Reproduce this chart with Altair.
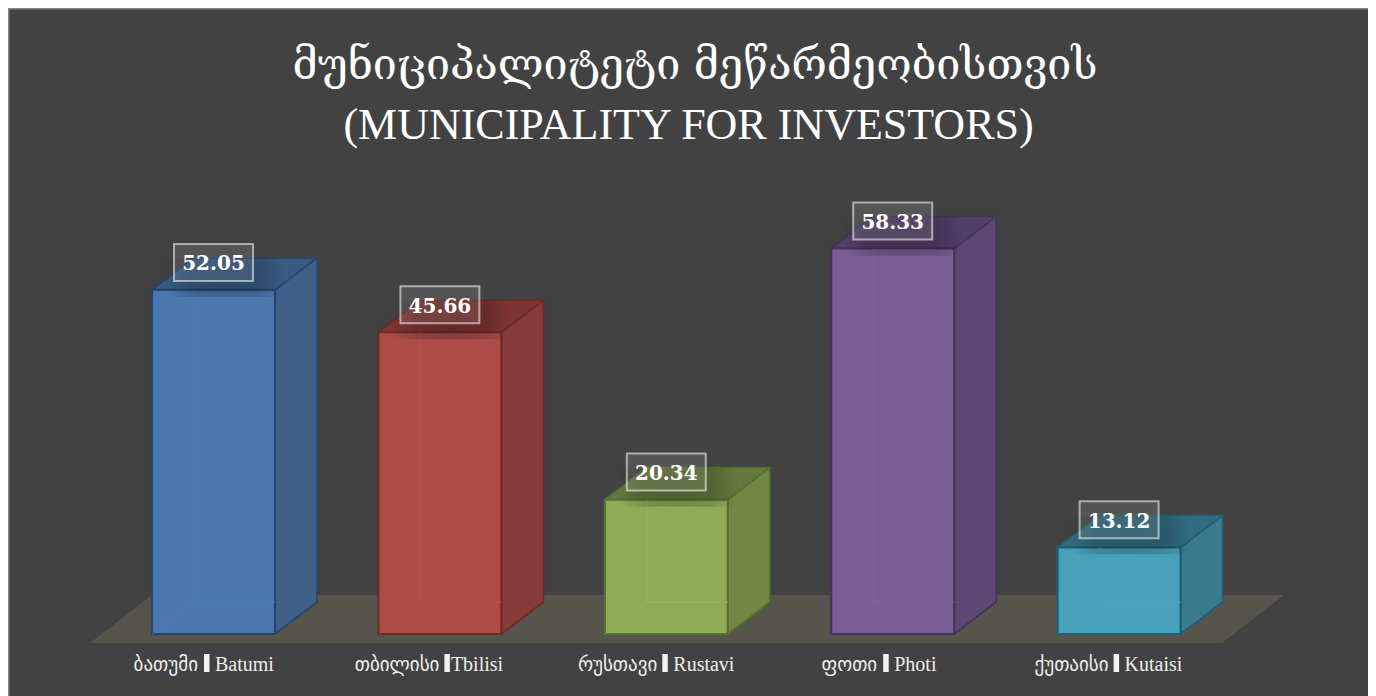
import altair as alt
import pandas as pd

# chart content
georgian = ["ბათუმი", "თბილისი", "რუსთავი", "ფოთი", "ქუთაისი"]
latin = ["Batumi", "Tbilisi", "Rustavi", "Photi", "Kutaisi"]
values = [52.05, 45.66, 20.34, 58.33, 13.12]
value_labels = ["52.05", "45.66", "20.34", "58.33", "13.12"]
title_georgian = "მუნიციპალიტეტი მეწარმეობისთვის"
title_latin = "(MUNICIPALITY FOR INVESTORS)"

# colours: front, side, top, edge, inner edge
front = ["#4b79af", "#ad4c47", "#8fab57", "#7a5e96", "#48a0ba"]
side = ["#3f6189", "#873b39", "#728744", "#5c4872", "#3a7a8e"]
top = ["#395a83", "#7d3533", "#65773d", "#523f68", "#326c80"]
edge = ["#264670", "#6e2a28", "#56702f", "#46325c", "#1f5f74"]
inner = ["#4f80ba", "#b8524c", "#96b85a", "#8266a0", "#4ea8c4"]

# label layout: horizontal shift of the separator from the bar centre (px)
label_shift = [-9.5, 4.5, -4, -9.5, -5.5]
sep_gap_left = [6, 5, 5, 6, 5]

# scale geometry
PX_PER_CAT = 226.4
PX_PER_VAL = 6.61
W, H = 1360, 688
X_DOMAIN = [(8 - 213.5) / PX_PER_CAT, (8 + W - 213.5) / PX_PER_CAT]
Y_DOMAIN = [-(696 - 634) / PX_PER_VAL, (634 - 8) / PX_PER_VAL]
half = 61.5 / PX_PER_CAT
dx = 42 / PX_PER_CAT
dy = 32 / PX_PER_VAL
box_w = 39.5 / PX_PER_CAT
box_h = 18.5 / PX_PER_VAL
box_up = 27.5 / PX_PER_VAL
px = lambda p: p / PX_PER_CAT
py = lambda p: p / PX_PER_VAL

xs = alt.Scale(domain=X_DOMAIN, nice=False, zero=False)
ys = alt.Scale(domain=Y_DOMAIN, nice=False, zero=False)
X = lambda f: alt.X(f, type="quantitative", scale=xs, axis=None)
Y = lambda f: alt.Y(f, type="quantitative", scale=ys, axis=None)

bars = pd.DataFrame({
    "i": range(5), "v": values, "txt": value_labels,
    "front": front, "side": side, "top": top, "edge": edge, "inner": inner,
    "ge": georgian, "la": latin, "shift": label_shift, "gap": sep_gap_left,
})
bars["xl"] = bars.i - half
bars["xr"] = bars.i + half
bars["zero"] = 0.0
bars["bl"] = bars.i - box_w
bars["br"] = bars.i + box_w
bars["bc"] = bars.v + box_up
bars["bb"] = bars.bc - box_h
bars["bt"] = bars.bc + box_h
bars["ly"] = py(-31)
bars["s1"] = bars.i + px(bars["shift"])
bars["s2"] = bars.s1 + px(5.5)
bars["gx"] = bars.s1 - px(bars["gap"])
bars["lx"] = bars.s2 + px(5.5)
bars.loc[1, "lx"] = bars.loc[1, "s2"] + px(1)
bars["sy1"] = py(-38)
bars["sy2"] = py(-20)
bars["shl"] = bars.i - px(50)
bars["shr"] = bars.i + px(72)
bars["sht"] = bars.v + dy
bars["shb"] = bars.v - py(7)

side_rows, top_rows, back_rows = [], [], []
for r in bars.itertuples():
    side_rows += [dict(i=r.i, x=r.xr, y=0.0, y2=r.v, fill=r.side, edge=r.edge),
                  dict(i=r.i, x=r.xr + dx, y=dy, y2=r.v + dy, fill=r.side, edge=r.edge)]
    top_rows += [dict(i=r.i, y=r.v, x=r.xl, x2=r.xr, fill=r.top, edge=r.edge),
                 dict(i=r.i, y=r.v + dy, x=r.xl + dx, x2=r.xr + dx, fill=r.top, edge=r.edge)]
    back_rows += [dict(i=r.i, k=0, x=r.xl, y=0.0, c=r.inner),
                  dict(i=r.i, k=1, x=r.xl + dx, y=dy, c=r.inner),
                  dict(i=r.i, k=2, x=r.xr, y=dy, c=r.inner),
                  dict(i=r.i, k=3, x=r.xl + dx, y=dy, c=r.inner),
                  dict(i=r.i, k=4, x=r.xl + dx, y=r.v, c=r.inner)]
side_df, top_df, back_df = map(pd.DataFrame, (side_rows, top_rows, back_rows))

floor_df = pd.DataFrame({
    "y": [py(-9), py(39)],
    "x": [px(90 - 213.5), px(152 - 213.5)],
    "x2": [px(1222 - 213.5), px(1284 - 213.5)],
})
panel_df = pd.DataFrame({"x": [X_DOMAIN[0]], "x2": [X_DOMAIN[1]], "y": [Y_DOMAIN[0]], "y2": [Y_DOMAIN[1]]})
title_df = pd.DataFrame({
    "t": [title_georgian, title_latin],
    "x": [px(695 - 213.5), px(688.5 - 213.5)],
    "y": [py(634 - 66), py(634 - 126)],
})

panel = alt.Chart(panel_df).mark_rect(fill="#424242").encode(x=X("x"), x2="x2", y=Y("y"), y2="y2")
border_top = alt.Chart(panel_df).mark_rule(color="#858585", strokeWidth=3).encode(x=X("x"), x2="x2", y=Y("y2"))
border_left = alt.Chart(panel_df).mark_rule(color="#858585", strokeWidth=3).encode(x=X("x"), y=Y("y"), y2="y2")
floor = alt.Chart(floor_df).mark_area(orient="horizontal", color="#57544c").encode(
    y=Y("y"), x=X("x"), x2="x2")
sidef = alt.Chart(side_df).mark_area(strokeWidth=1.6, strokeJoin="round").encode(
    x=X("x"), y=Y("y"), y2="y2", color=alt.Color("fill:N", scale=None),
    stroke=alt.Stroke("edge:N", scale=None), detail="i:N")
topf = alt.Chart(top_df).mark_area(orient="horizontal", strokeWidth=1.6, strokeJoin="round").encode(
    y=Y("y"), x=X("x"), x2="x2", color=alt.Color("fill:N", scale=None),
    stroke=alt.Stroke("edge:N", scale=None), detail="i:N")
frontf = alt.Chart(bars).mark_rect(strokeWidth=2.2).encode(
    x=X("xl"), x2="xr", y=Y("zero"), y2="v", color=alt.Color("front:N", scale=None),
    stroke=alt.Stroke("edge:N", scale=None))
backl = alt.Chart(back_df).mark_line(strokeWidth=1, opacity=0.6).encode(
    x=X("x"), y=Y("y"), order="k:Q", detail="i:N", color=alt.Color("c:N", scale=None))
shadow = alt.Chart(bars).mark_rect(
    fill=alt.Gradient(gradient="radial", x1=0.5, y1=0.5, x2=0.5, y2=0.5, r1=0, r2=0.5, stops=[
        alt.GradientStop(offset=0, color="rgba(0,0,0,0.2)"),
        alt.GradientStop(offset=0.6, color="rgba(0,0,0,0.16)"),
        alt.GradientStop(offset=1, color="rgba(0,0,0,0)"),
    ])).encode(x=X("shl"), x2="shr", y=Y("shb"), y2="sht")
boxes = alt.Chart(bars).mark_rect(fill="#ffffff", fillOpacity=0.1, stroke="#ffffff", strokeOpacity=0.55, strokeWidth=2).encode(
    x=X("bl"), x2="br", y=Y("bb"), y2="bt")
box_text = alt.Chart(bars).mark_text(font="DejaVu Serif", fontWeight="bold", fontSize=20, color="#ffffff", baseline="middle", dy=2).encode(
    x=X("i"), y=Y("bc"), text="txt:N")
ge_text = alt.Chart(bars).mark_text(font="DejaVu Sans", fontSize=19, color="#eeeeee", baseline="middle", align="right").encode(
    x=X("gx"), y=Y("ly"), text="ge:N")
la_text = alt.Chart(bars).mark_text(font="Liberation Serif", fontSize=20, color="#eeeeee", baseline="middle", align="left").encode(
    x=X("lx"), y=Y("ly"), text="la:N")
seps = alt.Chart(bars).mark_rect(color="#f2f2f2").encode(x=X("s1"), x2="s2", y=Y("sy1"), y2="sy2")
title_ge = alt.Chart(title_df.iloc[[0]]).mark_text(font="DejaVu Serif", fontSize=43, color="#ffffff", baseline="middle").encode(
    x=X("x"), y=Y("y"), text="t:N")
title_la = alt.Chart(title_df.iloc[[1]]).mark_text(font="Liberation Serif", fontSize=44, color="#ffffff", baseline="middle").encode(
    x=X("x"), y=Y("y"), text="t:N")

chart = alt.layer(panel, border_top, border_left, floor, sidef, topf, frontf, backl, shadow, boxes,
                  box_text, ge_text, seps, la_text, title_ge, title_la).properties(
    width=W, height=H, padding=0, background="#ffffff",
    autosize=alt.AutoSizeParams(type="none")
).configure_view(strokeWidth=0)

chart.save("out.html", embed_options={"renderer": "svg", "actions": False})
